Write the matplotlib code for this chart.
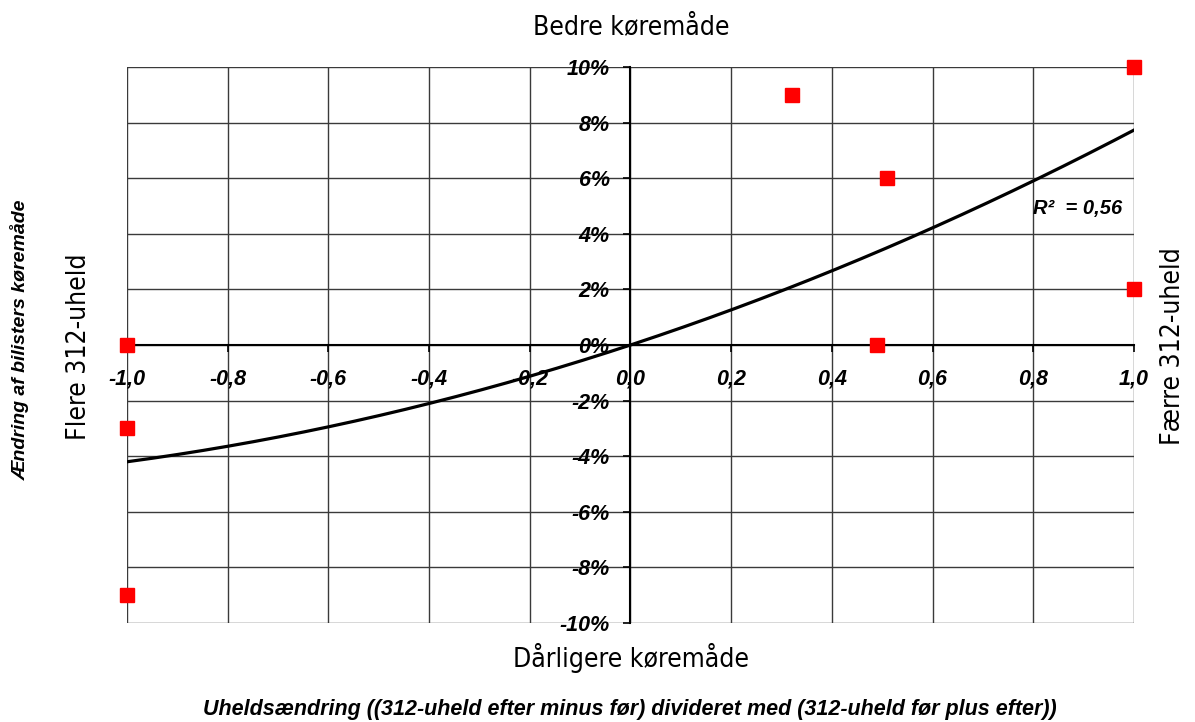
import numpy as np
import matplotlib
matplotlib.use('Agg')
import matplotlib.pyplot as plt
from matplotlib import font_manager as fm
from matplotlib.ticker import FuncFormatter

# Data
x_vals = [-1.0, -1.0, -1.0, 0.32, 0.51, 0.49, 1.0, 1.0]
y_vals = [0.0, -3.0, -9.0, 9.0, 6.0, 0.0, 10.0, 2.0]  # percent

# Trendline (polynomial, through origin): y = a*x^2 + b*x
trend_coef = [1.765, 5.965, 0.0]
r2_text = '0,56'

x_ticks = [-1.0, -0.8, -0.6, -0.4, -0.2, 0.0, 0.2, 0.4, 0.6, 0.8, 1.0]
y_ticks = [-10, -8, -6, -4, -2, 0, 2, 4, 6, 8, 10]

BI = dict(family='Liberation Sans', weight='bold', style='italic')

# condensed font for the direction labels, if there is one
narrow_path = fm.findfont(fm.FontProperties(family='DejaVu Sans', stretch='condensed'))
if 'Condensed' in narrow_path:
    def narrow(size):
        return fm.FontProperties(fname=narrow_path, size=size)
    NARROW_SIZE = 19
else:
    def narrow(size):
        return fm.FontProperties(family='Liberation Sans', size=size)
    NARROW_SIZE = 17.5

fig = plt.figure(figsize=(11.95, 7.22), dpi=100)
ax = fig.add_axes([0.1063, 0.1371, 0.8426, 0.7701])

ax.set_xlim(-1, 1)
ax.set_ylim(-10, 10)

# grid
for xv in x_ticks:
    ax.axvline(xv, color='#3a3a3a', lw=1.0, zorder=1)
for yv in y_ticks:
    ax.axhline(yv, color='#3a3a3a', lw=1.0, zorder=1)

# axes through origin
for s in ['top', 'right']:
    ax.spines[s].set_visible(False)
ax.spines['left'].set_position(('data', 0))
ax.spines['bottom'].set_position(('data', 0))
for s in ['left', 'bottom']:
    ax.spines[s].set_linewidth(1.5)
    ax.spines[s].set_zorder(2)

ax.set_xticks(x_ticks)
ax.set_yticks(y_ticks)
ax.xaxis.set_major_formatter(FuncFormatter(lambda v, p: f'{v:.1f}'.replace('.', ',')))
ax.yaxis.set_major_formatter(FuncFormatter(lambda v, p: f'{v:.0f}%'))
ax.tick_params(axis='both', direction='out', length=5, width=1.2, color='black')
ax.tick_params(axis='x', pad=12)
ax.tick_params(axis='y', pad=10)
for lab in ax.get_xticklabels() + ax.get_yticklabels():
    lab.set_fontproperties(fm.FontProperties(size=15.5, **BI))

# trendline
xs = np.linspace(-1, 1, 200)
ax.plot(xs, np.polyval(trend_coef, xs), color='black', lw=2.3, zorder=3)

# points
ax.plot(x_vals, y_vals, 's', color='#ff0000', markersize=9.5, clip_on=False, zorder=4)

ax.text(0.8, 4.9, f'R²  = {r2_text}', ha='left', va='center', fontsize=14.5, zorder=5, **BI)

# direction labels
fig.text(0.528, 0.963, 'Bedre køremåde', ha='center', va='center', fontproperties=narrow(NARROW_SIZE))
fig.text(0.528, 0.089, 'Dårligere køremåde', ha='center', va='center', fontproperties=narrow(NARROW_SIZE))
fig.text(0.066, 0.52, 'Flere 312-uheld', ha='center', va='center', rotation=90,
         fontproperties=narrow(NARROW_SIZE))
fig.text(0.982, 0.52, 'Færre 312-uheld', ha='center', va='center', rotation=90,
         fontproperties=narrow(NARROW_SIZE))

# axis titles
fig.text(0.017, 0.53, 'Ændring af bilisters køremåde', ha='center', va='center', rotation=90,
         fontsize=14, **BI)
fig.text(0.527, 0.018, 'Uheldsændring ((312-uheld efter minus før) divideret med (312-uheld før plus efter))',
         ha='center', va='center', fontsize=15.5, **BI)

fig.savefig('out.png', dpi=100)
